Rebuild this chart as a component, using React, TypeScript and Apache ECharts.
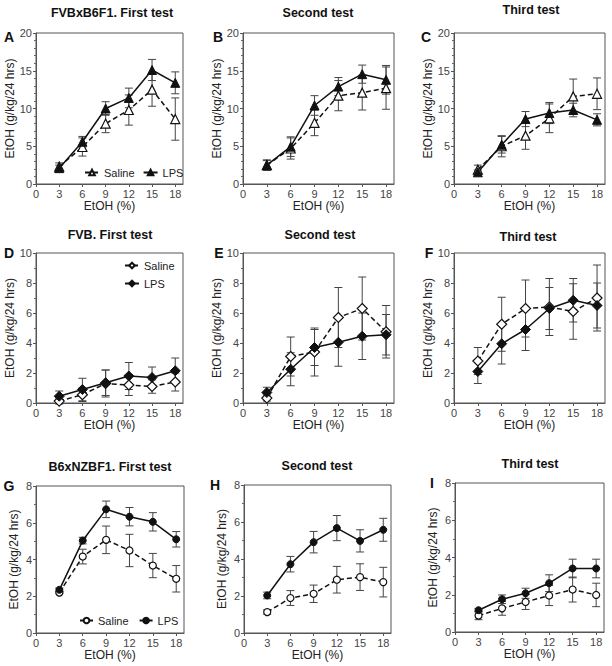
import React, { useEffect, useRef } from "react";
import * as echarts from "echarts";

// Ethanol concentrations (%)
const concentrations = [3, 6, 9, 12, 15, 18];
const xTickValues = [0, 3, 6, 9, 12, 15, 18];

// Panel A: FVBxB6F1 first test
const aSalineMean = [2.3, 4.9, 8.0, 9.8, 12.5, 8.6];
const aSalineSem = [0.5, 1.2, 1.2, 2.0, 2.2, 2.8];
const aLpsMean = [2.1, 5.6, 10.0, 11.4, 15.1, 13.4];
const aLpsSem = [0.4, 0.7, 0.9, 1.3, 1.4, 1.45];
// Panel B: FVBxB6F1 second test
const bSalineMean = [2.5, 4.7, 8.1, 11.7, 12.1, 12.7];
const bSalineSem = [0.7, 1.4, 1.7, 2.0, 2.3, 2.8];
const bLpsMean = [2.5, 4.95, 10.4, 12.9, 14.55, 13.8];
const bLpsSem = [0.6, 1.3, 1.3, 1.2, 1.2, 1.9];
// Panel C: FVBxB6F1 third test
const cSalineMean = [1.9, 5.0, 6.4, 8.7, 11.6, 11.95];
const cSalineSem = [0.6, 1.4, 1.8, 1.9, 2.3, 2.1];
const cLpsMean = [1.55, 5.2, 8.6, 9.4, 9.8, 8.5];
const cLpsSem = [0.3, 1.1, 1.0, 1.4, 0.9, 0.8];
// Panel D: FVB first test
const dSalineMean = [0.13, 0.55, 1.3, 1.2, 1.1, 1.4];
const dSalineSem = [0.2, 0.45, 0.9, 0.7, 0.45, 0.6];
const dLpsMean = [0.45, 0.9, 1.35, 1.8, 1.7, 2.15];
const dLpsSem = [0.35, 0.75, 0.85, 0.9, 0.7, 0.85];
// Panel E: FVB second test
const eSalineMean = [0.33, 3.1, 3.4, 5.7, 6.3, 4.75];
const eSalineSem = [0.2, 1.3, 1.6, 2.0, 2.1, 1.75];
const eLpsMean = [0.7, 2.25, 3.7, 4.05, 4.45, 4.55];
const eLpsSem = [0.35, 1.1, 1.2, 1.6, 1.55, 1.35];
// Panel F: FVB third test
const fSalineMean = [2.8, 5.25, 6.3, 6.4, 6.1, 7.0];
const fSalineSem = [0.9, 1.8, 1.9, 1.9, 1.85, 2.2];
const fLpsMean = [2.1, 3.95, 4.9, 6.3, 6.85, 6.5];
const fLpsSem = [0.8, 1.35, 1.4, 1.4, 1.45, 1.5];
// Panel G: B6xNZBF1 first test
const gSalineMean = [2.2, 4.16, 5.07, 4.49, 3.67, 2.95];
const gSalineSem = [0.05, 0.4, 0.75, 0.88, 0.66, 0.72];
const gLpsMean = [2.35, 5.03, 6.73, 6.33, 6.05, 5.1];
const gLpsSem = [0.1, 0.18, 0.45, 0.5, 0.5, 0.42];
// Panel H: B6xNZBF1 second test
const hSalineMean = [1.13, 1.89, 2.12, 2.88, 3.02, 2.75];
const hSalineSem = [0.12, 0.4, 0.47, 0.72, 0.72, 0.8];
const hLpsMean = [2.03, 3.72, 4.91, 5.67, 4.98, 5.58];
const hLpsSem = [0.18, 0.42, 0.58, 0.68, 0.6, 0.62];
// Panel I: B6xNZBF1 third test
const iSalineMean = [0.88, 1.27, 1.61, 1.96, 2.28, 1.99];
const iSalineSem = [0.22, 0.37, 0.4, 0.54, 0.67, 0.63];
const iLpsMean = [1.17, 1.76, 2.08, 2.62, 3.41, 3.41];
const iLpsSem = [0.1, 0.23, 0.27, 0.45, 0.5, 0.5];

const panelTitles = [
  "FVBxB6F1. First test", "Second test", "Third test",
  "FVB. First test", "Second test", "Third test",
  "B6xNZBF1. First test", "Second test", "Third test",
];
const panelLetters = ["A", "B", "C", "D", "E", "F", "G", "H", "I"];
const xAxisTitle = "EtOH (%)";
const yAxisTitle = "EtOH (g/kg/24 hrs)";

const FONT = "'Liberation Sans', Arial, sans-serif";

type Panel = {
  box: number[];
  titlePos: number[];
  letterPos: number[];
  yMax: number;
  yInt: number;
  minorSplit: number;
  symbol: string;
  symbolSize: number;
  saline: number[][];
  lps: number[][];
};

const panels: Panel[] = [
  { box: [36, 33, 147, 151], titlePos: [112, 13], letterPos: [9, 37], yMax: 20, yInt: 5, minorSplit: 5, symbol: "triangle", symbolSize: 9, saline: [aSalineMean, aSalineSem], lps: [aLpsMean, aLpsSem] },
  { box: [243, 33, 151, 151], titlePos: [318, 13], letterPos: [218, 37], yMax: 20, yInt: 5, minorSplit: 5, symbol: "triangle", symbolSize: 9, saline: [bSalineMean, bSalineSem], lps: [bLpsMean, bLpsSem] },
  { box: [454, 33, 151, 151], titlePos: [531, 10], letterPos: [426, 37], yMax: 20, yInt: 5, minorSplit: 5, symbol: "triangle", symbolSize: 9, saline: [cSalineMean, cSalineSem], lps: [cLpsMean, cLpsSem] },
  { box: [36, 253, 147, 150], titlePos: [110, 235], letterPos: [9, 253], yMax: 10, yInt: 2, minorSplit: 2, symbol: "diamond", symbolSize: 10, saline: [dSalineMean, dSalineSem], lps: [dLpsMean, dLpsSem] },
  { box: [243, 253, 151, 150], titlePos: [320, 235], letterPos: [219, 253], yMax: 10, yInt: 2, minorSplit: 2, symbol: "diamond", symbolSize: 10, saline: [eSalineMean, eSalineSem], lps: [eLpsMean, eLpsSem] },
  { box: [454, 253, 151, 150], titlePos: [528, 237], letterPos: [429, 253], yMax: 10, yInt: 2, minorSplit: 2, symbol: "diamond", symbolSize: 10, saline: [fSalineMean, fSalineSem], lps: [fLpsMean, fLpsSem] },
  { box: [36, 486, 148, 147], titlePos: [110, 467], letterPos: [9, 486], yMax: 8, yInt: 2, minorSplit: 2, symbol: "circle", symbolSize: 7, saline: [gSalineMean, gSalineSem], lps: [gLpsMean, gLpsSem] },
  { box: [244, 485, 147, 148], titlePos: [317, 466], letterPos: [215, 485], yMax: 8, yInt: 2, minorSplit: 2, symbol: "circle", symbolSize: 7, saline: [hSalineMean, hSalineSem], lps: [hLpsMean, hLpsSem] },
  { box: [455, 483, 149, 149], titlePos: [530, 464], letterPos: [432, 483], yMax: 8, yInt: 2, minorSplit: 2, symbol: "circle", symbolSize: 7, saline: [iSalineMean, iSalineSem], lps: [iLpsMean, iLpsSem] },
];

function buildOption() {
  const grid: any[] = [];
  const xAxis: any[] = [];
  const yAxis: any[] = [];
  const series: any[] = [];
  const graphic: any[] = [];

  panels.forEach((p, i) => {
    const [l, t, w, h] = p.box;
    grid.push({ left: l, top: t, width: w, height: h, show: true, borderColor: "#555", borderWidth: 1, backgroundColor: "transparent" });
    xAxis.push({
      type: "value", gridIndex: i, min: 0, max: 19,
      name: xAxisTitle, nameLocation: "middle", nameGap: 16,
      nameTextStyle: { fontFamily: FONT, fontSize: 12, color: "#222" },
      axisLine: { show: true, lineStyle: { color: "#555", width: 1 } },
      axisTick: { show: true, inside: false, length: 3, customValues: xTickValues, lineStyle: { color: "#555" } },
      axisLabel: { customValues: xTickValues, fontFamily: FONT, fontSize: 11, color: "#444", margin: 4 },
      splitLine: { show: false },
    });
    yAxis.push({
      type: "value", gridIndex: i, min: 0, max: p.yMax, interval: p.yInt,
      name: yAxisTitle, nameLocation: "middle", nameGap: 16, nameRotate: 90,
      nameTextStyle: { fontFamily: FONT, fontSize: 12, color: "#222" },
      axisLine: { show: true, lineStyle: { color: "#555", width: 1 } },
      axisTick: { show: true, inside: false, length: 3, lineStyle: { color: "#555" } },
      minorTick: { show: true, splitNumber: p.minorSplit, length: 2, lineStyle: { color: "#666" } },
      axisLabel: { fontFamily: FONT, fontSize: 11, color: "#444", margin: 4 },
      splitLine: { show: false },
    });

    const groups: [string, number[][], boolean][] = [
      ["Saline", p.saline, true],
      ["LPS", p.lps, false],
    ];
    groups.forEach(([label, [means, sems], open]) => {
      series.push({
        type: "custom", xAxisIndex: i, yAxisIndex: i, z: 1, silent: true,
        name: label + " err " + panelLetters[i],
        data: concentrations.map((c, k) => [c, means[k] - sems[k], means[k] + sems[k]]),
        encode: { x: 0, y: [1, 2] },
        renderItem: (params: any, api: any) => {
          const x = api.value(0);
          const lo = api.coord([x, api.value(1)]);
          const hi = api.coord([x, api.value(2)]);
          const cw = 4;
          const st = { stroke: "#444", lineWidth: 1 };
          return {
            type: "group",
            children: [
              { type: "line", shape: { x1: lo[0], y1: lo[1], x2: hi[0], y2: hi[1] }, style: st },
              { type: "line", shape: { x1: lo[0] - cw, y1: lo[1], x2: lo[0] + cw, y2: lo[1] }, style: st },
              { type: "line", shape: { x1: hi[0] - cw, y1: hi[1], x2: hi[0] + cw, y2: hi[1] }, style: st },
            ],
          };
        },
      });
      series.push({
        type: "line", xAxisIndex: i, yAxisIndex: i, z: 3,
        name: label + " " + panelLetters[i],
        data: concentrations.map((c, k) => [c, means[k]]),
        symbol: p.symbol, symbolSize: p.symbolSize, showSymbol: true,
        lineStyle: { color: "#111", width: 1.5, type: open ? [5, 3] : "solid" },
        itemStyle: open
          ? { color: "#fff", borderColor: "#111", borderWidth: 1.2 }
          : { color: "#111", borderColor: "#111", borderWidth: 1 },
      });
    });

    graphic.push({
      type: "text", x: p.titlePos[0], y: p.titlePos[1],
      style: { text: panelTitles[i], fontFamily: FONT, fontSize: 12.5, fontWeight: "bold", fill: "#111", align: "center", verticalAlign: "middle" },
    });
    graphic.push({
      type: "text", x: p.letterPos[0], y: p.letterPos[1],
      style: { text: panelLetters[i], fontFamily: FONT, fontSize: 14, fontWeight: "bold", fill: "#111", align: "center", verticalAlign: "middle" },
    });
  });

  const legendText = { fontFamily: FONT, fontSize: 11, color: "#222" };
  const fmt = (n: string) => n.split(" ")[0];
  const common = { formatter: fmt, textStyle: legendText, selectedMode: false, padding: 0, itemHeight: 7 };
  const legend = [
    { ...common, data: ["Saline A", "LPS A"], left: 84, top: 167, itemWidth: 14, itemGap: 8 },
    { ...common, data: ["Saline D", "LPS D"], left: 124, top: 260, orient: "vertical", itemWidth: 14, itemGap: 7 },
    { ...common, data: ["Saline G", "LPS G"], left: 79, top: 615, itemWidth: 13, itemGap: 10 },
  ];

  return {
    animation: false,
    backgroundColor: "#fff",
    textStyle: { fontFamily: FONT },
    grid, xAxis, yAxis, series, graphic, legend,
  };
}

export default function App() {
  const ref = useRef<HTMLDivElement>(null);
  useEffect(() => {
    if (!ref.current) return;
    const chart = echarts.init(ref.current, undefined, { renderer: "svg" });
    chart.setOption(buildOption() as any);
    return () => chart.dispose();
  }, []);
  return <div ref={ref} style={{ position: "absolute", left: 0, top: 0, width: 612, height: 666 }} />;
}
